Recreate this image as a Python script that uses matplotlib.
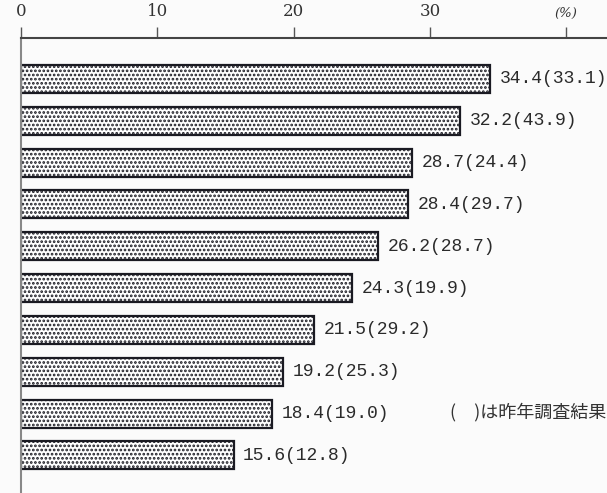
import matplotlib
matplotlib.use("Agg")
import matplotlib.pyplot as plt

# data
categories = [f"item{i+1}" for i in range(10)]
values = [34.4, 32.2, 28.7, 28.4, 26.2, 24.3, 21.5, 19.2, 18.4, 15.6]
prev_values = [33.1, 43.9, 24.4, 29.7, 28.7, 19.9, 29.2, 25.3, 19.0, 12.8]
tick_vals = [0, 10, 20, 30, 40]
tick_labels = ["0", "10", "20", "30", "(%)"]
note = "(\u3000)は昨年調査結果"

plt.rcParams['hatch.linewidth'] = 1.3
plt.rcParams['hatch.color'] = '#10101c'

W, H = 607, 493
fig = plt.figure(figsize=(W / 100, H / 100), dpi=100)
fig.patch.set_facecolor('#fbfbfb')
left, top = 21, 38
ax = fig.add_axes([left / W, 0, 1 - left / W, 1 - top / H])
ax.set_facecolor('#fbfbfb')

y = list(range(len(values)))
bars = ax.barh(y, values, height=0.67, color='white', edgecolor='#1a1a22',
               linewidth=1.6, hatch='....')

for yi, v, p in zip(y, values, prev_values):
    ax.text(v + 0.7, yi, f"{v:.1f}({p:.1f})", va='center', ha='left',
            fontsize=13, family='Liberation Mono', color='#2a2a2a')

ax.set_xlim(0, (W - left) / 13.63)
ax.set_ylim(9.90, -0.98)
ax.xaxis.tick_top()
ax.set_xticks(tick_vals)
ax.set_xticklabels(tick_labels, family='DejaVu Serif', fontsize=12, color='#333333')
ax.tick_params(axis='x', direction='out', length=8, width=1, color='#555555', pad=5)
ax.set_yticks([])
for s in ['right', 'bottom']:
    ax.spines[s].set_visible(False)
ax.spines['top'].set_color('#444444')
ax.spines['top'].set_linewidth(1.5)
ax.spines['left'].set_color('#888888')
ax.spines['left'].set_linewidth(1.5)
lbl = ax.get_xticklabels()[-1]
lbl.set_fontsize(9.5)
lbl.set_style('italic')

fig.text(606 / W, 1 - 412 / H, note, ha='right', va='center', fontsize=13,
         family=['Noto Sans CJK JP', 'DejaVu Sans'], color='#333333')

fig.savefig('out.png', dpi=100, facecolor=fig.get_facecolor())
